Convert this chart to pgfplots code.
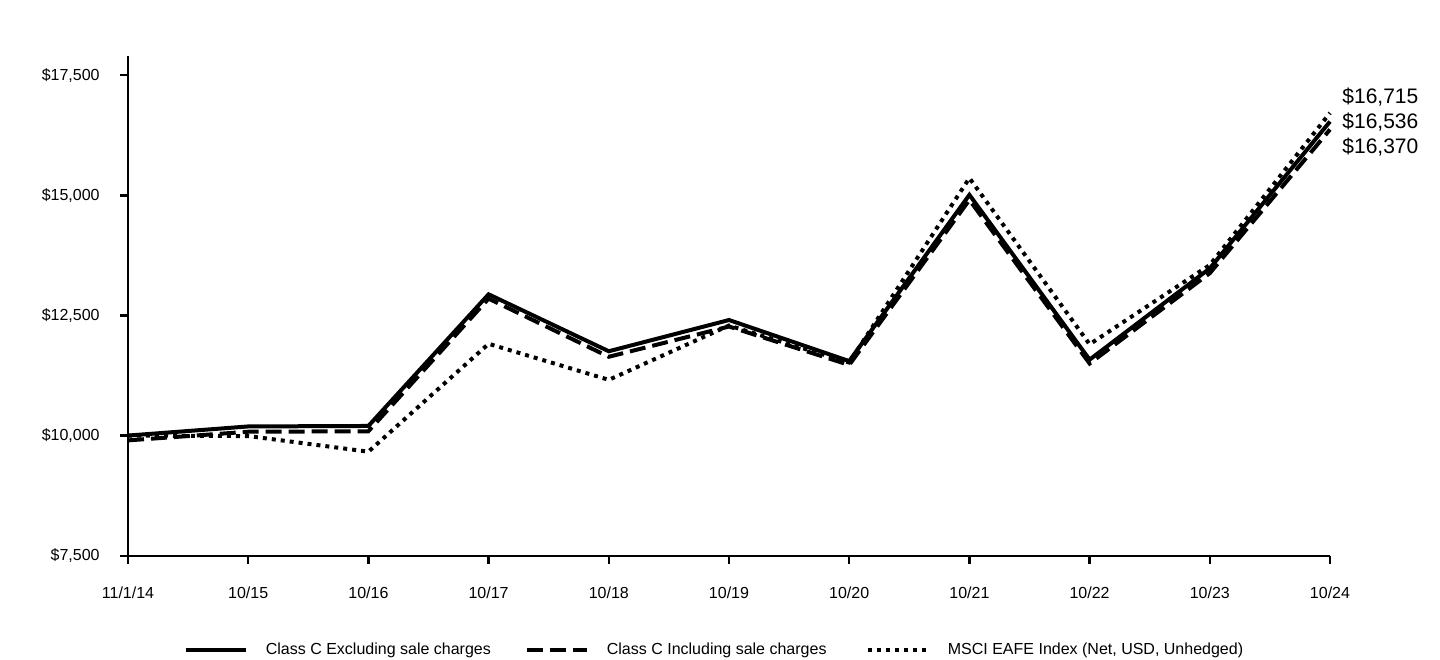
\documentclass[border=0pt]{standalone}
\usepackage{fontspec}
\setmainfont{Liberation Sans}
\usepackage{pgfplots}
\pgfplotsset{compat=1.18}
\begin{document}
\begin{tikzpicture}
\path[use as bounding box] (0,0) rectangle (720bp,330bp);
\begin{axis}[
  at={(64bp,52.15bp)}, anchor=south west,
  scale only axis, width=601bp, height=249.85bp,
  xmin=0, xmax=10, ymin=7500, ymax=17900,
  axis x line*=bottom, axis y line*=left,
  axis line style={line width=1.2bp, -},
  tick align=outside, major tick length=4bp,
  tick style={line width=1.2bp, black},
  scaled ticks=false,
  xtick={0,...,10},
  xticklabels={11/1/14,10/15,10/16,10/17,10/18,10/19,10/20,10/21,10/22,10/23,10/24},
  ytick={7500,10000,12500,15000,17500},
  yticklabels={{\$7,500},{\$10,000},{\$12,500},{\$15,000},{\$17,500}},
  ticklabel style={font=\fontsize{8bp}{9.6bp}\selectfont},
  xticklabel style={anchor=north, inner sep=0pt, yshift=-11.5bp},
  yticklabel style={anchor=east, inner sep=0pt, xshift=-10bp},
  clip=false,
  legend columns=3,
  legend style={at={(axis description cs:0.0465,-0.1887)}, anchor=west,
    draw=none, fill=none, inner sep=0pt, outer sep=0pt,
    font=\fontsize{8bp}{9.6bp}\selectfont,
    nodes={inner sep=0pt},
    /tikz/every odd column/.style={column sep=9bp},
    /tikz/every even column/.style={column sep=17.5bp}},
  legend cell align=left,
  legend image code/.code={\draw[#1] (0bp,0bp) -- (30bp,0bp);},
]
\addplot[black, line width=2bp] coordinates {
(0,10000) (1,10190) (2,10200) (3,12940) (4,11755) (5,12405) (6,11550) (7,15010) (8,11580) (9,13480) (10,16536)};
\addlegendentry{\makebox[112bp][l]{Class C Excluding sale charges}}
\addplot[black, line width=2bp, dash pattern=on 8bp off 3.5bp] coordinates {
(0,9900) (1,10080) (2,10090) (3,12850) (4,11640) (5,12270) (6,11470) (7,14905) (8,11500) (9,13380) (10,16370)};
\addlegendentry{\makebox[112bp][l]{Class C Including sale charges}}
\addplot[black, line width=2bp, dash pattern=on 2bp off 2.5bp] coordinates {
(0,10000) (1,9990) (2,9665) (3,11910) (4,11160) (5,12290) (6,11520) (7,15360) (8,11900) (9,13550) (10,16715)};
\addlegendentry{MSCI EAFE Index (Net, USD, Unhedged)}
\node[anchor=west, inner sep=0pt, font=\fontsize{10.5bp}{12bp}\selectfont] at (axis cs:10,17050) [xshift=6bp] {\$16,715};
\node[anchor=west, inner sep=0pt, font=\fontsize{10.5bp}{12bp}\selectfont] at (axis cs:10,16530) [xshift=6bp] {\$16,536};
\node[anchor=west, inner sep=0pt, font=\fontsize{10.5bp}{12bp}\selectfont] at (axis cs:10,16010) [xshift=6bp] {\$16,370};
\end{axis}
\end{tikzpicture}
\end{document}
